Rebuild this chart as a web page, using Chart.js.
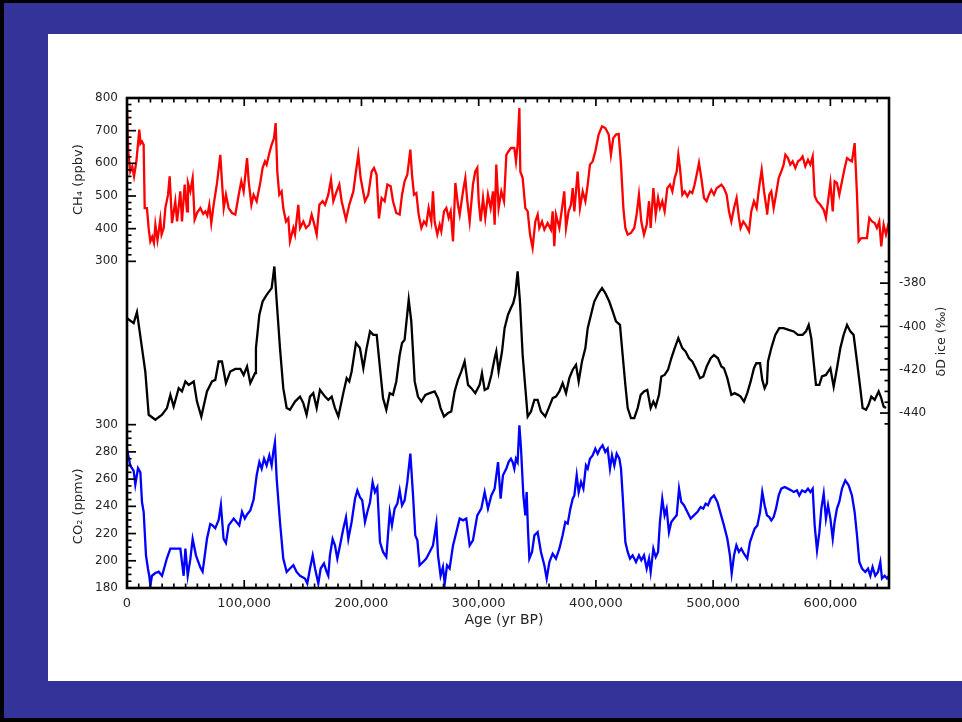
<!DOCTYPE html>
<html><head><meta charset="utf-8">
<script src="https://cdn.jsdelivr.net/npm/chart.js@4"></script>
<style>
html,body{margin:0;padding:0;}
body{width:962px;height:722px;background:#000;position:relative;overflow:hidden;}
#frame{position:absolute;left:4px;top:3px;width:958px;height:715px;background:#343399;}
#panel{position:absolute;left:48px;top:34px;width:914px;height:647px;background:#fff;}
#panel canvas{display:block;}
</style></head>
<body><div id="frame"></div><div id="panel"><canvas id="c" width="914" height="647"></canvas></div>
<script>
// ---------- DATA (ages in years BP) ----------
const ch4Age = [0,1000,2800,4500,6000,8000,10500,11500,12800,14200,15100,17000,18500,19900,21500,23000,24200,26000,28400,29500,31300,32700,35000,36400,38400,41200,42700,45500,46900,49200,51200,52000,54000,56000,57700,60000,62600,65000,66800,68500,70200,71900,73900,76800,79600,81000,82500,84400,86700,89600,92400,95300,97500,99500,102400,103800,106100,108000,
110600,113400,115700,117700,119100,121400,123400,125400,126800,128200,129900,131900,133300,135600,137600,139000,141900,143300,146100,147600,150400,152700,155500,157500,159500,161800,164100,166900,168900,171700,174000,176000,178800,181100,183100,186800,189600,193100,195300,197300,199300,203000,205800,208700,210700,212900,214900,217200,
219800,222100,224900,226900,229700,232600,234600,236800,239100,241700,243100,244800,246800,248800,251100,253300,255300,257300,259600,261000,262400,264700,266700,268100,270400,272400,274400,276100,278100,280100,282300,283800,286600,288600,290300,292300,295100,297100,298800,300000,301700,303700,305600,307900,310200,312200,313600,315000,317000,319300,321600,323600,325500,327500,
330400,331800,333200,334700,335500,337500,339800,341800,343800,346000,348300,350300,351700,354000,356000,358800,361700,363100,364500,365900,367400,368800,371100,373000,374500,376700,378700,380200,381600,383000,384400,386400,388700,391000,393000,394900,397200,399500,402300,405200,408000,410900,412800,414800,417100,419400,421400,423400,425100,427100,429900,432700,434700,436700,
438700,441000,443300,445300,446700,449000,451000,453000,454600,456600,458600,460900,463200,465200,467200,468900,470300,471700,473700,475700,478000,480200,482200,484200,486500,487900,489900,492200,494400,496400,498400,500700,503000,505000,507000,509200,511500,513500,515500,517800,520000,522000,523400,525700,527700,530600,532500,534800,537100,539100,541400,543400,545900,
546000,547900,549600,551600,553600,555900,558100,560100,561600,563800,565800,567800,570100,572400,574400,576300,578600,580900,582900,584900,586600,588600,591400,594300,596200,598000,600000,602000,603600,605600,607600,609900,612200,614200,616100,618400,620700,622700,624100,626400,629200,631200,633200,635500,637800,639700,641700,643400,645400,647400,649700];
const ch4Val = [770,640,575,590,560,606,703,660,667,657,463,463,400,361,375,356,412,365,428,382,402,463,504,560,417,484,422,514,422,535,453,540,514,555,428,450,463,445,453,440,473,417,473,540,626,545,463,504,463,448,443,504,545,514,616,545,473,504,
484,535,586,606,596,631,657,677,723,575,504,514,463,422,432,361,402,382,473,402,422,402,412,443,417,382,473,484,473,504,550,484,514,535,484,428,473,514,575,626,555,484,504,575,586,565,431,494,
484,535,530,484,448,443,504,545,565,642,565,504,509,443,402,422,412,463,422,514,422,382,412,392,453,463,433,453,361,540,473,443,514,555,484,422,535,575,586,484,422,494,433,504,463,514,412,596,463,514,484,626,637,647,
647,606,657,769,575,555,463,453,382,341,422,443,402,422,397,417,397,453,346,443,422,402,463,514,402,453,473,524,453,514,575,463,514,484,535,596,606,637,688,713,708,688,626,677,688,690,596,463,402,382,387,402,443,504,
422,382,412,484,402,524,443,494,463,484,453,524,535,514,555,575,626,586,504,514,499,514,509,535,575,601,555,494,484,504,519,504,524,529,535,524,504,453,422,463,494,433,402,422,412,392,453,484,463,524,580,514,453,
443,504,514,463,504,555,575,596,626,616,596,606,586,606,611,621,591,611,596,621,500,484,473,458,433,484,540,453,545,540,504,545,586,616,611,606,662,504,361,371,371,371,433,422,417,402,422,346,412,382,417];

const dDAge = [0,5700,8500,12800,15600,18500,24200,29900,34100,37000,39800,44100,46900,49800,52600,56900,59700,63400,68200,72500,75300,78200,81000,84400,88100,92400,96700,99500,102400,105200,109200,
110000,112900,115700,119100,123400,125700,127700,130500,133300,136200,139000,143300,147600,150400,153200,156100,158900,161800,164600,168900,171700,174600,177400,180300,184500,187400,189600,191600,195300,198700,201600,204400,207300,210100,213000,215800,
218400,221200,224100,226900,229700,232600,234600,236800,240300,242500,245400,248200,251100,254500,258200,262400,265300,267500,270400,273800,276600,279500,282300,285200,288000,290900,293700,297100,300800,302800,305100,307900,310800,313600,315000,317000,319900,322100,325000,327500,
329500,331200,333200,335200,337500,339800,341800,344600,347500,350300,353100,356800,359700,363100,365900,368800,371600,374500,377300,380200,383000,385300,388100,391000,393000,395800,398600,402300,405200,408000,411400,414300,417100,420500,422800,425100,427100,429900,432700,435600,
438200,441000,443800,446700,449000,451000,453800,455800,458600,461500,464300,467200,470300,473700,476500,479400,482200,485100,488800,491600,494500,497900,500700,504100,507000,509200,512100,515500,518300,521200,523400,526300,529100,532000,534800,536800,540000,541900,543900,545900,
546800,549600,553000,556400,560100,564400,568700,572400,576300,579200,581500,583700,585700,587700,590600,592800,596200,600000,602800,605600,608500,611300,614200,617000,619800,622700,625500,627500,630400,632600,634900,637800,641200,643400,645400,647400];
const dDVal = [-396.2,-398.5,-393.4,-410,-420.8,-440.8,-443.1,-440.8,-437.7,-431.6,-437,-428.5,-430,-425.4,-427,-425.4,-434.7,-441.6,-430,-425.4,-424.7,-416.2,-416.2,-426.2,-420.8,-419.6,-419.6,-422.4,-418.5,-426.2,-421.6,
-410,-394.6,-388.5,-385.4,-382.3,-372.3,-388.5,-410,-428.5,-437.7,-438.5,-434.7,-432.4,-435.4,-440.8,-432.4,-430.8,-437.7,-429.3,-432.4,-433.9,-432.4,-437.7,-441.6,-430.8,-423.9,-425.4,-420.8,-407.7,-410,-419.3,-410,-402.3,-403.9,-403.9,-419.3,
-433.1,-438.5,-430.8,-431.6,-425.4,-413.2,-407.7,-406.2,-387.7,-397.7,-425.4,-432.4,-434.7,-431.6,-430.8,-430,-433.1,-437.7,-441.6,-440,-439.3,-430,-424.7,-420.8,-416.2,-427,-428.5,-430.8,-427,-421.6,-429.3,-428.5,-422.4,-414.7,-411.6,-420.8,-411.6,-400.8,-394.6,-391.5,
-389.2,-385.4,-374.6,-388.5,-413.2,-428.5,-441.6,-439.3,-433.9,-433.9,-439.3,-441.6,-437.7,-433.1,-432.4,-430,-426.2,-430.8,-423.9,-420,-417.7,-425.4,-416.2,-410,-400.8,-394.6,-388.5,-384.6,-382.3,-384.6,-388.5,-393.1,-397.7,-399.3,-413.2,-427,-437.7,-442.3,-442.3,-437.7,
-431.6,-430,-429.3,-437.7,-434.7,-437,-431.6,-423.1,-422.4,-420,-414.7,-410,-405.4,-410,-411.6,-414.7,-416.2,-419.3,-423.9,-423.1,-418.5,-414.7,-413.2,-414.7,-418.5,-419.3,-423.9,-431.6,-430.8,-431.6,-432.4,-434.7,-430.8,-425.4,-419.3,-417,-417,-424.7,-428.5,-426.2,
-416.2,-410,-403.9,-400.8,-400.8,-401.6,-402.3,-403.9,-403.9,-402.3,-399.3,-405.4,-416.2,-427,-427,-423.1,-422.4,-419.3,-427.8,-419.3,-410,-403.9,-399.3,-402.3,-403.9,-416.2,-428.5,-437.7,-438.5,-436.2,-432.4,-433.9,-430,-433.1,-437,-437.7];

const co2Age = [0,2800,5700,7100,9400,11400,12800,14200,16200,17900,19000,19900,21300,24200,27000,29900,34100,37000,42700,45500,48300,49800,51800,54000,56000,58800,62600,64500,68200,71000,73000,75300,78200,80100,82400,84400,86700,91000,95800,98100,100500,102400,105200,108000,
110600,112900,114900,116900,119100,121400,123400,124800,126200,127700,130500,133300,136200,139000,141900,144700,147600,151800,153800,156100,158400,160400,163200,165200,168000,170300,171700,173100,175400,177400,179400,181700,184500,186800,188800,191600,194500,196500,198700,200700,203000,205000,207300,209500,211500,213500,215800,218400,
221200,224100,226000,228300,230600,232600,234600,236800,239100,241700,244000,245900,247700,249600,252500,255300,258200,261000,263900,265300,267500,269500,271000,273000,275200,278100,280900,283800,286600,289400,292300,295100,298800,302200,305100,307900,310800,313600,316500,318700,320700,323600,325500,327500,
329000,330400,331800,333200,334700,336100,338100,339800,340900,342000,343200,345500,347500,350300,353100,356000,358000,360300,363100,365900,368800,371600,373900,375900,378200,380200,381600,383600,385300,387300,389300,391500,393000,394900,397200,399500,401500,403500,405700,408000,410000,412000,413700,415700,417700,420000,421400,422800,425100,427100,429100,431300,434200,436700,
438700,441000,443300,445300,446700,449000,451000,453000,454600,456600,458600,460300,462300,464300,466600,468900,470900,472800,475100,478000,480800,483600,486500,489300,491600,493600,495600,497900,500700,503600,506400,509200,512100,514300,515800,517800,519800,522000,524000,526300,529100,531400,533400,535400,537700,540000,541900,543900,545900,
547900,549600,551600,553600,555900,558100,561000,563800,566700,568700,571500,573500,575800,578600,580900,582900,584900,586600,588600,590600,592300,594300,596200,598000,600000,602000,603600,605600,607600,609900,612700,615600,618400,620700,622700,624700,627000,629800,632100,634100,636000,638300,640600,642600,644000,646300,648300,650000];
const co2Val = [282,270,266,256,268,265,243,236,204,194,189,182,189,191,192,189,202,209,209,209,189,209,189,201,216,204,195,192,216,227,226,224,230,241,216,213,226,231,226,236,231,234,237,245,
262.8,272.5,267.7,275,270,277.4,270,279.9,287,260,228.5,201.6,191.8,194.3,196.7,191.8,189,187,183.3,194.3,204,194.3,183.3,194.3,198,191.8,189,204,216,211.3,201.6,211.3,223.6,232,216,228.5,245.6,251.7,246.8,244.4,228.5,235.8,243,257.8,250.5,254,213.8,206.5,
202.8,235.8,226,238.3,242,251.7,240.7,244.4,257.9,278.7,248,218.7,215,196.7,199.1,201.6,206.5,211.3,227.3,204,189,195.4,183.3,196.7,194.3,211.3,221,231,229.7,231,211.3,215,233.4,238.3,250.5,238.3,248,253,272.5,245.6,262.8,267.7,272.5,275,
272.5,267.7,275,272.5,299.5,282.4,248,233.4,250.5,223.6,201.6,206.5,218.7,221,206.5,196.7,186.9,199.1,205.2,201.6,208.9,218.7,228.5,227.3,238.3,245.6,248,262.8,250.5,257.9,253,270,267.7,275,277.4,282.4,278.7,282.4,284.8,279.9,282.4,267.7,277.4,270,278.7,275,267.7,248,213.8,206.5,201.6,204,199.1,204,
200.4,204,194.3,201.6,191.8,208.9,202.8,206.5,228.5,245.6,233.4,238.3,221,228.5,231,233.4,253,243.2,240.8,235.8,231,233.4,235.8,239.5,238.3,242,240.8,245.6,248,243.2,234.6,226,216.2,204,190.6,204,211.3,206.5,208.9,205.2,201.6,213.8,218.7,223.6,226,235.8,250.5,240.8,233.4,
232.1,229.7,232.1,238.3,248,253,254.2,253,251.7,250.5,251.7,248,251.7,250.5,253,250.5,253,226,207.7,221,238.3,249.3,231,240.8,231,216.2,228.5,238.3,243.2,253,259.1,255.4,248,235.8,218.7,199.1,194.3,191.8,194.3,189,195.4,189,191.8,199.1,187,189,187,189];

// tick labels
const ageTickLabels = [0,100000,200000,300000,400000,500000,600000];
const ch4TickLabels = [300,400,500,600,700,800];
const co2TickLabels = [180,200,220,240,260,280,300];
const dDTickLabels = [-440,-420,-400,-380];

// ---------- CHART ----------
const pts = (xs, ys) => xs.map((x, i) => ({x: x, y: ys[i]}));
const FONT = 'DejaVu Sans';
const TXT = '#262626';

function yAxis(opts){
  return Object.assign({
    type:'linear',
    grid:{display:false, drawTicks:false},
    border:{display:false},
  }, opts);
}

const decor = {
  id:'decor',
  afterDatasetsDraw(chart){
    const {ctx, chartArea:a, scales} = chart;
    ctx.save();
    ctx.strokeStyle = '#000';
    ctx.lineWidth = 1.7;
    const seg = (x1,y1,x2,y2)=>{ctx.beginPath();ctx.moveTo(x1,y1);ctx.lineTo(x2,y2);ctx.stroke();};
    for (let v = 0; v <= 650000; v += 10000){
      const px = scales.x.getPixelForValue(v);
      const len = v % 100000 === 0 ? 8 : 4.5;
      seg(px, a.bottom, px, a.bottom - len);
      seg(px, a.top, px, a.top + len);
    }
    for (let v = 300; v <= 800; v += 20){
      const py = scales.yCH4.getPixelForValue(v);
      seg(a.left, py, a.left + (v % 100 === 0 ? 9 : 4.5), py);
    }
    for (let v = 180; v <= 300; v += 5){
      const py = scales.yCO2.getPixelForValue(v);
      seg(a.left, py, a.left + (v % 20 === 0 ? 9 : 4.5), py);
    }
    for (let v = -445; v <= -370; v += 5){
      const py = scales.yD.getPixelForValue(v);
      seg(a.right, py, a.right - (v % 20 === 0 ? 9 : 4.5), py);
    }
    ctx.lineWidth = 2.6;
    ctx.strokeRect(a.left, a.top, a.right - a.left, a.bottom - a.top);

    ctx.fillStyle = TXT;
    ctx.textAlign = 'center';
    ctx.textBaseline = 'middle';
    const vtext = (t, x, y, size) => {
      ctx.save(); ctx.translate(x, y); ctx.rotate(-Math.PI/2);
      ctx.font = size + 'px "' + FONT + '"';
      ctx.fillText(t, 0, 0); ctx.restore();
    };
    vtext('CH\u2084 (ppbv)', 31, scales.yCH4.getPixelForValue(550), 13);
    vtext('CO\u2082 (ppmv)', 31, scales.yCO2.getPixelForValue(240), 13);
    vtext('\u03B4D ice (\u2030)', 894, scales.yD.getPixelForValue(-407), 12.5);
    ctx.font = '14px "' + FONT + '"';
    ctx.fillText('Age (yr BP)', 456, 586);
    ctx.restore();
  }
};

new Chart(document.getElementById('c'), {
  type:'line',
  data:{datasets:[
    {label:'CH4', data:pts(ch4Age, ch4Val), yAxisID:'yCH4', borderColor:'#ff0000', borderWidth:2.3, pointRadius:0, tension:0, fill:false},
    {label:'dD', data:pts(dDAge, dDVal), yAxisID:'yD', borderColor:'#000000', borderWidth:2.3, pointRadius:0, tension:0, fill:false},
    {label:'CO2', data:pts(co2Age, co2Val), yAxisID:'yCO2', borderColor:'#0000ff', borderWidth:2.3, pointRadius:0, tension:0, fill:false}
  ]},
  options:{
    responsive:false,
    animation:false,
    layout:{padding:{top:64, left:0, right:0, bottom:0}},
    plugins:{legend:{display:false}, tooltip:{enabled:false}},
    scales:{
      x:{type:'linear', position:'bottom', min:0, max:650000,
         afterBuildTicks: ax => { ax.ticks = ageTickLabels.map(v => ({value:v})); },
         ticks:{autoSkip:false, maxRotation:0, padding:8, color:TXT, font:{family:FONT, size:13},
                callback: v => v.toLocaleString('en-US')},
         grid:{display:false, drawTicks:false}, border:{display:false},
         afterFit: s => { s.height = 93; }},
      yCH4: yAxis({position:'left', stack:'left', stackWeight:1, weight:1, min:50, max:800,
         afterBuildTicks: ax => { ax.ticks = ch4TickLabels.map(v => ({value:v})); },
         ticks:{autoSkip:false, padding:9, color:TXT, font:{family:FONT, size:12}},
         afterFit: s => { s.width = 79; }}),
      yCO2: yAxis({position:'left', stack:'left', stackWeight:1, weight:0, min:180, max:360,
         afterBuildTicks: ax => { ax.ticks = co2TickLabels.map(v => ({value:v})); },
         ticks:{autoSkip:false, padding:9, color:TXT, font:{family:FONT, size:12}},
         afterFit: s => { s.width = 79; }}),
      yD: yAxis({position:'right', min:-520.8, max:-294.5,
         afterBuildTicks: ax => { ax.ticks = dDTickLabels.map(v => ({value:v})); },
         ticks:{autoSkip:false, padding:10, color:TXT, font:{family:FONT, size:12}},
         afterFit: s => { s.width = 73; }})
    }
  },
  plugins:[decor]
});
</script>
</body></html>
